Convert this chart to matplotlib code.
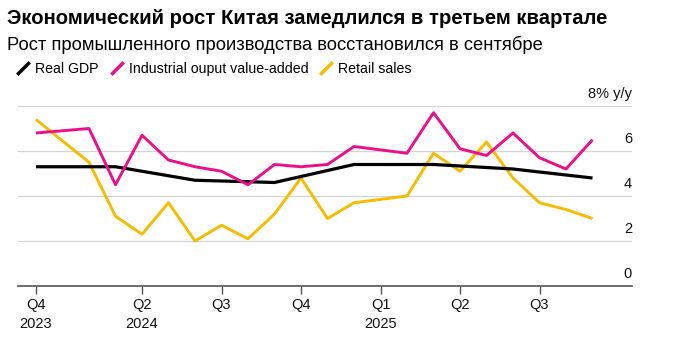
import numpy as np
import matplotlib
matplotlib.use('Agg')
import matplotlib.pyplot as plt
from matplotlib.lines import Line2D

plt.rcParams['font.family'] = ['Liberation Sans', 'DejaVu Sans']

# months counted from Dec 2023 (0) to Sep 2025 (21); Jan and Jan-Feb are combined
months = [0, 2, 3, 4, 5, 6, 7, 8, 9, 10, 11, 12, 14, 15, 16, 17, 18, 19, 20, 21]
industrial = [6.8, 7.0, 4.5, 6.7, 5.6, 5.3, 5.1, 4.5, 5.4, 5.3, 5.4, 6.2,
              5.9, 7.7, 6.1, 5.8, 6.8, 5.7, 5.2, 6.5]
retail = [7.4, 5.5, 3.1, 2.3, 3.7, 2.0, 2.7, 2.1, 3.2, 4.8, 3.0, 3.7,
          4.0, 5.9, 5.1, 6.4, 4.8, 3.7, 3.4, 3.0]

gdp_months = [0, 3, 6, 9, 12, 15, 18, 21]
gdp = [5.3, 5.3, 4.7, 4.6, 5.4, 5.4, 5.2, 4.8]

tick_pos = [0, 4, 7, 10, 13, 16, 19]
tick_labels = ['Q4\n2023', 'Q2\n2024', 'Q3', 'Q4', 'Q1\n2025', 'Q2', 'Q3']

black = '#000000'
pink = '#ec0f8b'
yellow = '#f5bc00'

fig = plt.figure(figsize=(6.8, 3.44), dpi=100)
ax = fig.add_axes([18 / 680, 1 - 286 / 344, 614 / 680, 180 / 344])

ax.plot(gdp_months, gdp, color=black, lw=2.3, zorder=3, solid_capstyle='butt')
ax.plot(months, industrial, color=pink, lw=2.1, zorder=4, solid_capstyle='butt')
ax.plot(months, retail, color=yellow, lw=2.1, zorder=2, solid_capstyle='butt')

ax.set_xlim(-18 / 26.5, 596 / 26.5)
ax.set_ylim(0, 8)

for v in [2, 4, 6, 8]:
    ax.axhline(v, color='#d4d4d4', lw=0.9, zorder=1)
for s in ['top', 'right', 'left']:
    ax.spines[s].set_visible(False)
ax.spines['bottom'].set_color('#555555')
ax.spines['bottom'].set_linewidth(1.2)

ax.set_yticks([])
for v in [0, 2, 4, 6]:
    ax.text(1.0, v + 0.22, str(v), transform=ax.get_yaxis_transform(),
            ha='right', va='bottom', fontsize=10.5, color='#111111')
ax.text(1.0, 8 + 0.22, '8% y/y', transform=ax.get_yaxis_transform(),
        ha='right', va='bottom', fontsize=10.5, color='#111111')

ax.set_xticks(tick_pos)
ax.set_xticklabels(tick_labels, fontsize=10.5, color='#111111', linespacing=1.45)
ax.tick_params(axis='x', length=6, width=1, color='#555555', pad=3)

fig.text(7 / 680, 1 - 18 / 344, 'Экономический рост Китая замедлился в третьем квартале',
         fontsize=14.6, fontweight='bold', va='center', ha='left')
fig.text(7 / 680, 1 - 45 / 344, 'Рост промышленного производства восстановился в сентябре',
         fontsize=13.2, va='center', ha='left')

slash = [(-1, -1), (1, 1)]
handles = [Line2D([], [], color=c, marker=slash, linestyle='none',
                  markersize=9, markeredgewidth=2.5)
           for c in [black, pink, yellow]]
fig.legend(handles, ['Real GDP', 'Industrial ouput value-added', 'Retail sales'],
           loc='center left', bbox_to_anchor=(17 / 680, 1 - 69 / 344), ncol=3,
           frameon=False, fontsize=10.2, handlelength=0.9, handletextpad=0.4,
           columnspacing=0.8, borderpad=0, borderaxespad=0)

fig.savefig('out.png', dpi=100)
